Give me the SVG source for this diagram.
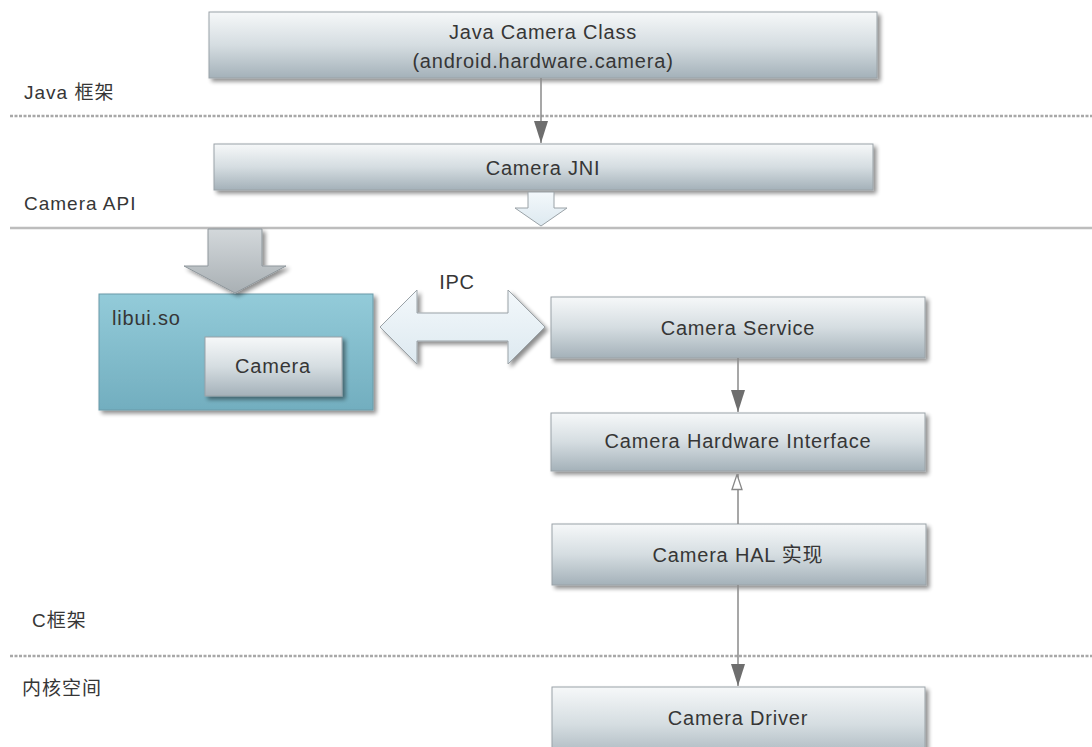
<svg xmlns="http://www.w3.org/2000/svg" width="1092" height="747" viewBox="0 0 1092 747">
  <defs>
    <linearGradient id="boxFill" x1="0" y1="0" x2="0" y2="1">
      <stop offset="0" stop-color="#f6f8f9"/>
      <stop offset="0.5" stop-color="#d5dde1"/>
      <stop offset="1" stop-color="#a4b1b9"/>
    </linearGradient>
    <linearGradient id="tealFill" x1="0" y1="0" x2="0" y2="1">
      <stop offset="0" stop-color="#93cbd9"/>
      <stop offset="1" stop-color="#72aebf"/>
    </linearGradient>
    <linearGradient id="grayArrow" x1="0" y1="0" x2="0" y2="1">
      <stop offset="0" stop-color="#d3d8db"/>
      <stop offset="1" stop-color="#a9b0b4"/>
    </linearGradient>
    <linearGradient id="paleArrow" x1="0" y1="0" x2="0" y2="1">
      <stop offset="0" stop-color="#f3f8fb"/>
      <stop offset="1" stop-color="#dde9f0"/>
    </linearGradient>
    <filter id="shadow" x="-5%" y="-10%" width="115%" height="130%">
      <feGaussianBlur in="SourceAlpha" stdDeviation="2"/>
      <feOffset dx="3" dy="3" result="b"/>
      <feComponentTransfer><feFuncA type="linear" slope="0.45"/></feComponentTransfer>
      <feMerge><feMergeNode/><feMergeNode in="SourceGraphic"/></feMerge>
    </filter>
    <!-- filled head, drawn pointing along +x so orient="auto" turns it with the line -->
    <marker id="solidHead" markerWidth="22" markerHeight="14" refX="22" refY="7" orient="auto" markerUnits="userSpaceOnUse" viewBox="0 0 22 14">
      <path d="M0,0 L22,7 L0,14 Z" fill="#6e6e6e"/>
    </marker>
    <marker id="hollowHead" markerWidth="17" markerHeight="14" refX="15.5" refY="7" orient="auto" markerUnits="userSpaceOnUse" viewBox="-1 -1 17 14">
      <path d="M0,1 L15,6 L0,11 Z" fill="#fff" stroke="#888" stroke-width="1.3"/>
    </marker>
  </defs>
  <style>
    .box { fill: url(#boxFill); stroke: #9aa2a7; stroke-width: 1; filter: url(#shadow); }
    .lbl { font-family: "Liberation Sans", Arial, "Noto Sans CJK SC", sans-serif; font-size: 20px; letter-spacing: 0.8px; fill: #363636; text-anchor: middle; }
    .side { font-family: "Liberation Sans", Arial, "Noto Sans CJK SC", sans-serif; font-size: 19px; letter-spacing: 1px; fill: #363636; }
    .dotted { stroke: #a8a8a8; stroke-width: 2.5; stroke-dasharray: 3 1.5; fill: none; }
    .solid { stroke: #bdbdbd; stroke-width: 2.5; fill: none; }
    .conn { stroke: #8a8a8a; stroke-width: 1.5; fill: none; }
  </style>

  <rect width="1092" height="747" fill="#ffffff"/>

  <!-- layer separators and layer names -->
  <g id="layers">
    <line class="dotted" x1="10" y1="116" x2="1092" y2="116"/>
    <line class="solid" x1="10" y1="228" x2="1092" y2="228"/>
    <line class="dotted" x1="10" y1="656" x2="1092" y2="656"/>
    <text class="side" x="24" y="99">Java 框架</text>
    <text class="side" x="24" y="210">Camera API</text>
    <text class="side" x="32" y="627">C框架</text>
    <text class="side" x="22" y="695">内核空间</text>
  </g>

  <g id="java-camera-class">
    <rect class="box" x="209" y="12" width="668" height="66"/>
    <text class="lbl" x="543" y="39">Java Camera Class</text>
    <text class="lbl" x="543" y="68">(android.hardware.camera)</text>
  </g>

  <g id="camera-jni">
    <rect class="box" x="214" y="144" width="659" height="46"/>
    <text class="lbl" x="543" y="175">Camera JNI</text>
  </g>

  <g id="libui">
    <rect x="99" y="294" width="274" height="116" fill="url(#tealFill)" stroke="#6a9aa8" stroke-width="1" filter="url(#shadow)"/>
    <text class="side" x="112" y="325" style="font-size:20px;letter-spacing:0.8px">libui.so</text>
  </g>

  <g id="camera">
    <rect class="box" x="205" y="337" width="137" height="59"/>
    <text class="lbl" x="273" y="373">Camera</text>
  </g>

  <g id="camera-service">
    <rect class="box" x="551" y="297" width="374" height="61"/>
    <text class="lbl" x="738" y="335">Camera Service</text>
  </g>

  <g id="camera-hardware-interface">
    <rect class="box" x="551" y="413" width="374" height="58"/>
    <text class="lbl" x="738" y="448">Camera Hardware Interface</text>
  </g>

  <g id="camera-hal">
    <rect class="box" x="552" y="524" width="374" height="61"/>
    <text class="lbl" x="738" y="562">Camera HAL 实现</text>
  </g>

  <g id="camera-driver">
    <rect class="box" x="552" y="687" width="373" height="75"/>
    <text class="lbl" x="738" y="725">Camera Driver</text>
  </g>

  <g id="connectors">
    <line class="conn" x1="541" y1="78" x2="541" y2="143" marker-end="url(#solidHead)"/>
    <line class="conn" x1="738" y1="358" x2="738" y2="412" marker-end="url(#solidHead)"/>
    <line class="conn" x1="738" y1="524" x2="738" y2="474" marker-end="url(#hollowHead)"/>
    <line class="conn" x1="738" y1="585" x2="738" y2="686" marker-end="url(#solidHead)"/>
    <!-- JNI down into the native layer -->
    <path d="M528,192 L554,192 L554,208 L567,208 L541,226 L515,208 L528,208 Z" fill="url(#paleArrow)" stroke="#9aa2a7" stroke-width="1"/>
    <!-- native layer down into libui.so -->
    <path d="M208,229 L262,229 L262,266 L286,266 L235,293 L184,266 L208,266 Z" fill="url(#grayArrow)" stroke="#8f979c" stroke-width="1" filter="url(#shadow)"/>
    <!-- IPC two-way arrow -->
    <path d="M380,327 L417,290 L417,313 L508,313 L508,290 L545,327 L508,364 L508,341 L417,341 L417,364 Z" fill="url(#paleArrow)" stroke="#9aa2a7" stroke-width="1" filter="url(#shadow)"/>
    <text class="lbl" x="457" y="289">IPC</text>
  </g>
</svg>
